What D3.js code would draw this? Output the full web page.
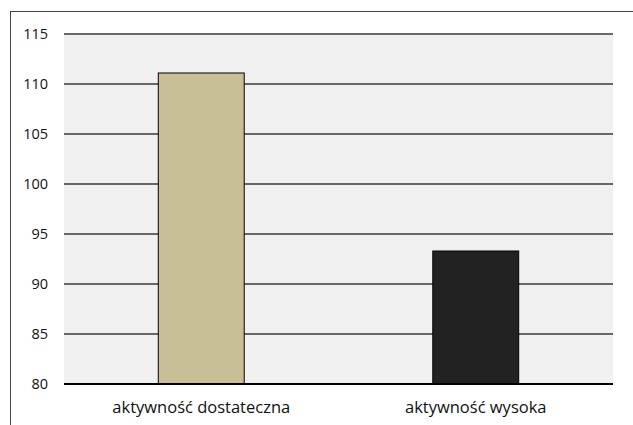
<!DOCTYPE html>
<html>
<head>
<meta charset="utf-8">
<script src="https://cdn.jsdelivr.net/npm/d3@7"></script>
<style>
  html, body { margin: 0; padding: 0; background: #fff; }
  svg { display: block; font-family: "Open Sans", "Noto Sans", sans-serif; }
</style>
</head>
<body>
<svg id="chart" width="633" height="425"></svg>
<script>
// Activity level categories and their values
const categories = ["aktywność dostateczna", "aktywność wysoka"];
const values = [111.1, 93.3];
const barColors = ["#c8bf96", "#222222"];
const yTicks = [80, 85, 90, 95, 100, 105, 110, 115];

const svg = d3.select("#chart");
const W = 633, H = 425;
const plot = { left: 64, right: 613, top: 34, bottom: 384 };

// Frame lines (top and left edges)
svg.append("line")
  .attr("x1", 10).attr("x2", W).attr("y1", 11.5).attr("y2", 11.5)
  .attr("stroke", "#444").attr("stroke-width", 1);
svg.append("line")
  .attr("x1", 10.5).attr("x2", 10.5).attr("y1", 11).attr("y2", H)
  .attr("stroke", "#444").attr("stroke-width", 1);

const x = d3.scaleBand()
  .domain(categories)
  .range([plot.left, plot.right])
  .paddingInner(0.687)
  .paddingOuter(0.3435);

const y = d3.scaleLinear()
  .domain([80, 115])
  .range([plot.bottom, plot.top]);

// Plot background
svg.append("rect")
  .attr("x", plot.left).attr("y", plot.top)
  .attr("width", plot.right - plot.left)
  .attr("height", plot.bottom - plot.top)
  .attr("fill", "#f0f0f0");

// Horizontal grid lines
svg.append("g")
  .selectAll("line")
  .data(yTicks.filter(t => t !== 80))
  .join("line")
  .attr("x1", plot.left).attr("x2", plot.right)
  .attr("y1", d => y(d)).attr("y2", d => y(d))
  .attr("stroke", "#3a3a3a").attr("stroke-width", 1.4);

// Bars
svg.append("g")
  .selectAll("rect")
  .data(categories)
  .join("rect")
  .attr("x", d => x(d))
  .attr("width", x.bandwidth())
  .attr("y", (d, i) => y(values[i]))
  .attr("height", (d, i) => y(80) - y(values[i]))
  .attr("fill", (d, i) => barColors[i])
  .attr("stroke", "#000").attr("stroke-width", 1);

// Baseline
svg.append("line")
  .attr("x1", plot.left).attr("x2", plot.right)
  .attr("y1", y(80)).attr("y2", y(80))
  .attr("stroke", "#000").attr("stroke-width", 2);

// Y axis labels
const yAxis = d3.axisLeft(y).tickValues(yTicks).tickSize(0).tickPadding(16);
const gy = svg.append("g")
  .attr("transform", `translate(${plot.left},0)`)
  .call(yAxis);
gy.select(".domain").remove();
gy.selectAll("text")
  .attr("font-size", 14.5)
  .attr("fill", "#111")
  .style("font-family", "'Open Sans', 'Noto Sans', sans-serif");

// Category labels
const xAxis = d3.axisBottom(x).tickSize(0).tickPadding(17);
const gx = svg.append("g")
  .attr("transform", `translate(0,${plot.bottom})`)
  .call(xAxis);
gx.select(".domain").remove();
gx.selectAll("text")
  .attr("font-size", 16.5)
  .attr("fill", "#111")
  .style("font-family", "'Open Sans', 'Noto Sans', sans-serif");
</script>
</body>
</html>
